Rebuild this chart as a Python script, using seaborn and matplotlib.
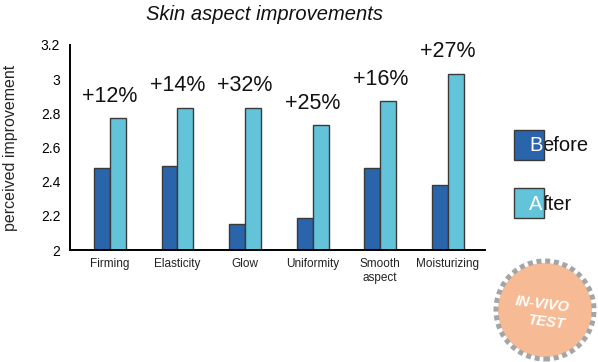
import matplotlib
matplotlib.use("Agg")
import matplotlib.pyplot as plt
from matplotlib.patches import Rectangle, Circle
import pandas as pd
import seaborn as sns

# Perceived improvement scores per skin attribute
categories = ["Firming", "Elasticity", "Glow", "Uniformity", "Smooth\naspect", "Moisturizing"]
before = [2.48, 2.49, 2.15, 2.19, 2.48, 2.38]
after = [2.77, 2.83, 2.83, 2.73, 2.87, 3.03]
gains = ["+12%", "+14%", "+32%", "+25%", "+16%", "+27%"]
phases = ["Before", "After"]
yticks = [2.0, 2.2, 2.4, 2.6, 2.8, 3.0, 3.2]
ytick_labels = ["2", "2.2", "2.4", "2.6", "2.8", "3", "3.2"]

colors = {"Before": "#2A64AA", "After": "#62C3D9"}
edge = "#3a3a3a"

df = pd.DataFrame({
    "attribute": categories * 2,
    "score": before + after,
    "phase": ["Before"] * len(categories) + ["After"] * len(categories),
})

sns.set_theme(style="white")
plt.rcParams["font.family"] = ["Liberation Sans", "DejaVu Sans"]

W, H = 598, 362
fig = plt.figure(figsize=(W / 100, H / 100), dpi=100)
ax = fig.add_axes([70 / W, 1 - 250 / H, (485 - 70) / W, (250 - 45) / H])

sns.barplot(data=df, x="attribute", y="score", hue="phase", hue_order=phases,
            palette=colors, saturation=1, width=0.47, gap=0, edgecolor=edge,
            linewidth=1.0, legend=False, ax=ax)

ax.set_ylim(2.0, 3.2)
ax.set_xlim(-0.59, 5.55)
ax.set_yticks(yticks)
ax.set_yticklabels(ytick_labels, fontsize=10)
ax.tick_params(axis="y", direction="out", length=4, width=1.2, pad=3, colors="black")
ax.tick_params(axis="x", length=0, pad=6, labelsize=8.5)
for lab in ax.get_xticklabels():
    lab.set_color("#222222")
ax.set_xlabel("")
ax.set_ylabel("perceived improvement", fontsize=11.5, labelpad=6)
ax.yaxis.set_label_coords(-0.125, 0.5)
for side in ["top", "right"]:
    ax.spines[side].set_visible(False)
for side in ["left", "bottom"]:
    ax.spines[side].set_color("black")
    ax.spines[side].set_linewidth(1.4)

# Percentage gain above each group
for i, txt in enumerate(gains):
    ax.annotate(txt, xy=(i, after[i]), xytext=(0, 16), textcoords="offset points",
                ha="center", va="center", fontsize=15.5, color="#111111")

fig.text(265 / W, 1 - 14 / H, "Skin aspect improvements", ha="center", va="center",
         fontsize=14.5, style="italic", color="#111111")

# Legend: colour squares with the label starting inside the square
for name, top in [("Before", 130), ("After", 188)]:
    fig.patches.append(Rectangle((514 / W, 1 - (top + 30) / H), 30 / W, 30 / H,
                                 transform=fig.transFigure, facecolor=colors[name],
                                 edgecolor=edge, linewidth=1.0))
    base = 1 - (top + 21.5) / H
    first = fig.text(529 / W, base, name[0], ha="left", va="baseline", fontsize=14.5,
                     color="white", zorder=5)
    ax.annotate(name[1:], xy=(1, 0), xycoords=first, ha="left", va="bottom",
                fontsize=14.5, color="#111111", annotation_clip=False)

# "IN-VIVO TEST" badge
bx = fig.add_axes([490 / W, 0, 108 / W, 104 / H])
bx.set_xlim(0, 108)
bx.set_ylim(0, 104)
bx.set_aspect("equal")
bx.axis("off")
cx, cy = 55, 52
bx.add_patch(Circle((cx, cy), 47, facecolor="#F6BB94", edgecolor="none"))
bx.add_patch(Circle((cx, cy), 49, facecolor="none", edgecolor="#A5A5A5",
                    linewidth=3.6, linestyle=(0, (1.0, 0.75))))
bx.text(cx - 3, cy + 6, "IN-VIVO", ha="center", va="center", fontsize=10.5,
        fontweight="bold", style="italic", color="white", rotation=-7)
bx.text(cx + 2, cy - 12, "TEST", ha="center", va="center", fontsize=10.5,
        fontweight="bold", style="italic", color="white", rotation=-7)

fig.savefig("out.png", dpi=100)
